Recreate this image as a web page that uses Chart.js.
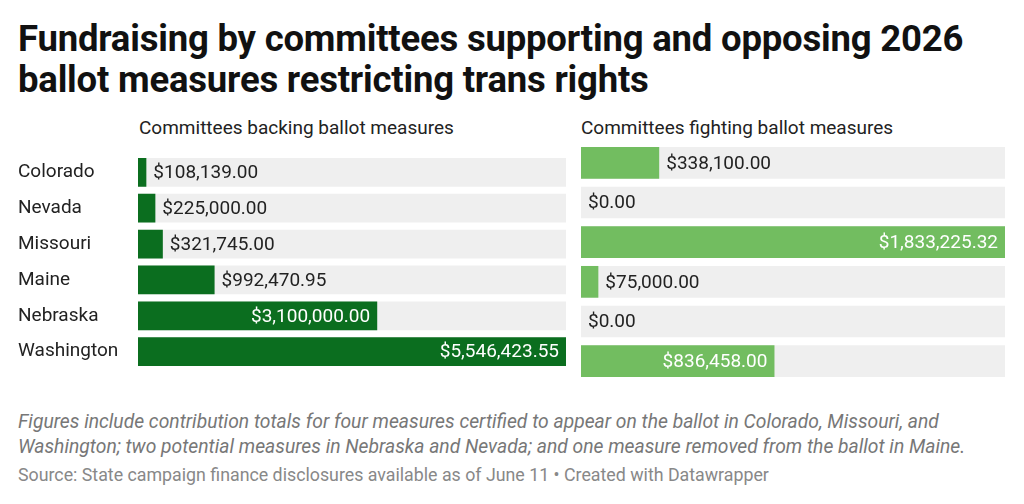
<!DOCTYPE html>
<html><head><meta charset="utf-8">
<script src="https://cdn.jsdelivr.net/npm/chart.js@4/dist/chart.umd.min.js"></script>
<style>
body{margin:0;width:1024px;height:504px;background:#fff;font-family:Roboto,sans-serif;position:relative;overflow:hidden}
.t{position:absolute;left:18px;top:18px;font-size:36.5px;font-weight:700;line-height:41px;color:#111;letter-spacing:-0.2px}
.h{position:absolute;top:116px;font-size:19px;color:#222}
.f{position:absolute;left:18px;top:409px;font-size:19.3px;font-style:italic;color:#777;line-height:25px}
.s{position:absolute;left:18px;top:464px;font-size:17.8px;color:#888}
canvas{position:absolute}
</style></head><body>
<div class="t">Fundraising by committees supporting and opposing 2026<br>ballot measures restricting trans rights</div>
<div class="h" style="left:139px">Committees backing ballot measures</div>
<div class="h" style="left:581px">Committees fighting ballot measures</div>
<canvas id="left" width="548" height="238" style="left:18px;top:143px"></canvas>
<canvas id="right" width="424" height="238" style="left:581px;top:143px"></canvas>
<div class="f">Figures include contribution totals for four measures certified to appear on the ballot in Colorado, Missouri, and<br>Washington; two potential measures in Nebraska and Nevada; and one measure removed from the ballot in Maine.</div>
<div class="s">Source: State campaign finance disclosures available as of June 11 • Created with Datawrapper</div>
<script>
const states = ['Colorado', 'Nevada', 'Missouri', 'Maine', 'Nebraska', 'Washington'];
const backing = [108139.00, 225000.00, 321745.00, 992470.95, 3100000.00, 5546423.55];
const fighting = [338100.00, 0, 1833225.32, 75000.00, 0, 836458.00];

const fmt = v => '$' + v.toLocaleString('en-US', {minimumFractionDigits: 2, maximumFractionDigits: 2});

const labelPlugin = {
  id: 'labels',
  afterDatasetsDraw(chart) {
    const ctx = chart.ctx;
    const meta = chart.getDatasetMeta(1);
    const vals = chart.data.datasets[1].data;
    ctx.save();
    ctx.font = '19px Roboto';
    ctx.textBaseline = 'middle';
    meta.data.forEach((bar, i) => {
      const txt = fmt(vals[i]);
      const w = ctx.measureText(txt).width;
      const len = bar.x - bar.base;
      if (len > w + 16) {
        ctx.fillStyle = '#fff'; ctx.textAlign = 'right';
        ctx.fillText(txt, bar.x - 7, bar.y + 1);
      } else {
        ctx.fillStyle = '#222'; ctx.textAlign = 'left';
        ctx.fillText(txt, bar.x + 7, bar.y + 1);
      }
    });
    ctx.restore();
  }
};

function makeChart(id, values, color, showY) {
  const max = Math.max(...values);
  return new Chart(document.getElementById(id), {
    type: 'bar',
    data: {
      labels: states,
      datasets: [
        {data: states.map(() => max), backgroundColor: '#efefef', grouped: false, barPercentage: 0.8, categoryPercentage: 1, order: 2},
        {data: values, backgroundColor: color, grouped: false, barPercentage: 0.8, categoryPercentage: 1, order: 1}
      ]
    },
    options: {
      indexAxis: 'y',
      responsive: false, animation: false, devicePixelRatio: 1,
      layout: {padding: 0},
      plugins: {legend: {display: false}, tooltip: {enabled: false}},
      scales: {
        x: {display: false, min: 0, max: max},
        y: {
          display: showY,
          grid: {display: false}, border: {display: false},
          ticks: {color: '#222', font: {size: 19, family: 'Roboto'}, crossAlign: 'far', padding: 0},
          afterFit: s => { s.width = showY ? 120 : 0; }
        }
      }
    },
    plugins: [labelPlugin]
  });
}
makeChart('left', backing, '#0b6e1f', true);
makeChart('right', fighting, '#72bd60', false);
</script>
</body></html>
